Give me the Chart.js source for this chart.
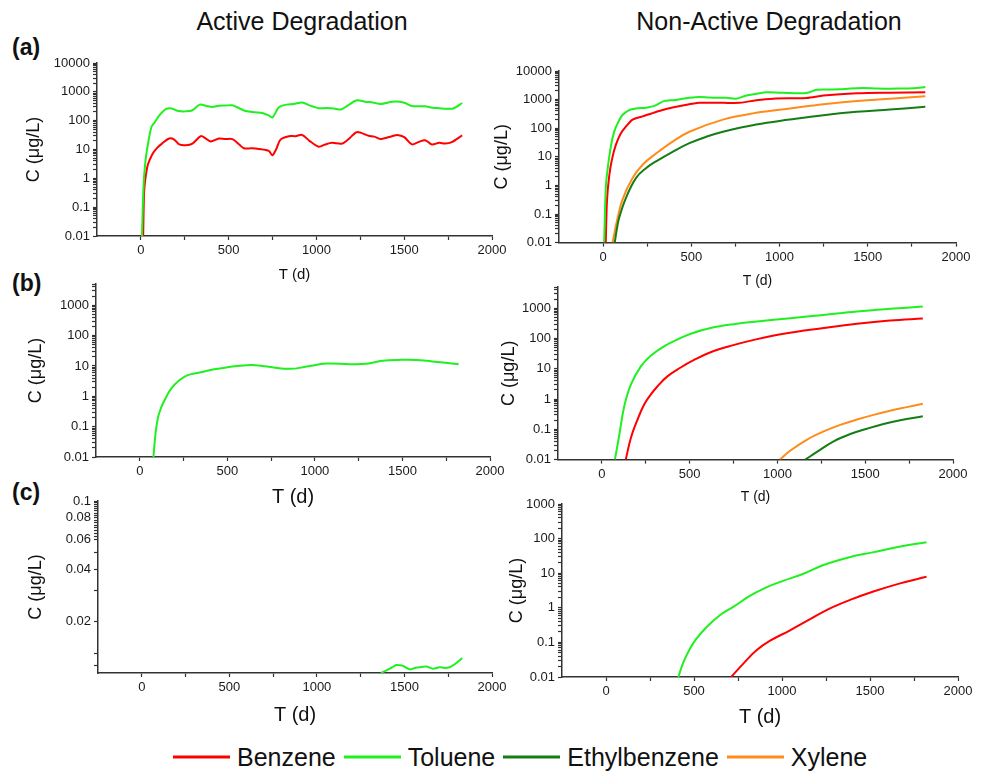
<!DOCTYPE html>
<html>
<head>
<meta charset="utf-8">
<script src="https://cdn.jsdelivr.net/npm/chart.js@4.4.1/dist/chart.umd.min.js"></script>
<style>
  body { margin: 0; width: 986px; height: 773px; position: relative; background: #fff; overflow: hidden;
         font-family: "Liberation Sans", Arial, sans-serif; color: #111; }
  canvas { position: absolute; }
  .txt { position: absolute; line-height: 1; white-space: nowrap; transform: translate(-50%, -50%); }
  .head { font-size: 25px; }
  .tag { font-size: 23px; font-weight: bold; transform: translate(0, -50%); }
  #legend { position: absolute; left: 173px; top: 757px; transform: translateY(-50%); display: flex;
            align-items: center; font-size: 25px; line-height: 1; }
  #legend .ln { display: inline-block; width: 57px; height: 2.5px; margin-right: 7px; }
  #legend .lb { margin-right: 8px; }
</style>
</head>
<body>
<div class="txt head" style="left:302px; top:21px">Active Degradation</div>
<div class="txt head" style="left:769px; top:21px">Non-Active Degradation</div>
<div class="txt tag" style="left:12px; top:47px">(a)</div>
<div class="txt tag" style="left:12px; top:283px">(b)</div>
<div class="txt tag" style="left:12px; top:492px">(c)</div>

<canvas id="aL"></canvas>
<canvas id="aR"></canvas>
<canvas id="bL"></canvas>
<canvas id="bR"></canvas>
<canvas id="cL"></canvas>
<canvas id="cR"></canvas>

<div id="legend"></div>

<script>
const seriesNames = ['Benzene', 'Toluene', 'Ethylbenzene', 'Xylene'];
const seriesColors = ['#ff0000', '#1ff01f', '#147d14', '#ff8c1a'];

const xTicks = [0, 250, 500, 750, 1000, 1250, 1500, 1750, 2000];
const xLabels = [0, 500, 1000, 1500, 2000];

const decadeLabels = [0.01, 0.1, 1, 10, 100, 1000, 10000];
const cLeftLabels = [0.02, 0.04, 0.06, 0.08, 0.1];
const cLeftMinor = [0.011, 0.013, 0.03, 0.05, 0.0625, 0.065, 0.0675, 0.07, 0.0725, 0.075, 0.0775,
                    0.0825, 0.085, 0.0875, 0.09, 0.0925, 0.095, 0.0975];

// (a) Active degradation
const aActBenzT = [13, 18, 25, 40, 66, 90, 120, 161, 190, 218, 256, 294, 341, 370, 398, 445, 480, 521, 560, 587,
                   630, 672, 729, 748, 770, 795, 843, 880, 919, 960, 1013, 1050, 1089, 1146, 1190, 1230, 1297,
                   1330, 1364, 1430, 1460, 1500, 1544, 1580, 1619, 1657, 1700, 1733, 1771, 1830];
const aActBenzC = [0.01, 0.3, 0.9, 3, 7, 11, 16, 24, 22, 15, 14, 16, 29, 24, 19, 24, 23, 23, 15, 11,
                   11, 10.5, 9, 6.3, 10, 22, 29, 29, 32, 20, 12.5, 15, 17, 16, 25, 40, 30,
                   28, 23, 29, 32, 27, 15, 18, 21, 15, 17, 16, 18, 31];
const aActTolT = [6, 15, 25, 40, 60, 80, 104, 142, 175, 215, 256, 294, 335, 370, 407, 445, 483, 521, 560, 597,
                  650, 691, 730, 750, 786, 830, 870, 919, 960, 1013, 1060, 1100, 1140, 1180, 1230, 1278, 1320,
                  1365, 1430, 1460, 1500, 1544, 1580, 1619, 1660, 1700, 1740, 1780, 1830];
const aActTolC = [0.01, 0.5, 3.5, 15, 60, 90, 150, 250, 265, 215, 210, 230, 360, 330, 300, 330, 335, 340, 270, 215,
                  195, 185, 150, 130, 290, 360, 380, 430, 340, 270, 275, 265, 245, 340, 510, 450, 430,
                  380, 450, 460, 420, 320, 315, 315, 280, 270, 260, 265, 410];

// (a) Non-active degradation
const aNonBenzT = [15, 22, 34, 50, 72, 100, 129, 167, 224, 300, 357, 451, 546, 679, 774, 868, 963, 1153, 1248, 1437, 1627, 1826];
const aNonBenzC = [0.01, 0.3, 2, 8, 26, 65, 113, 200, 260, 370, 470, 620, 770, 770, 770, 950, 1080, 1140, 1380, 1660, 1750, 1800];
const aNonTolT = [6, 15, 25, 45, 63, 85, 110, 148, 186, 243, 280, 300, 347, 380, 413, 450, 489, 546, 600, 641, 700,
                  755, 812, 870, 925, 1000, 1058, 1153, 1210, 1280, 1342, 1400, 1475, 1550, 1627, 1700, 1760, 1826];
const aNonTolC = [0.01, 0.8, 3.5, 25, 76, 160, 290, 430, 490, 520, 580, 640, 900, 940, 960, 1080, 1170, 1240, 1180, 1150, 1150,
                  1080, 1400, 1600, 1800, 1750, 1700, 1700, 2200, 2250, 2280, 2450, 2540, 2450, 2400, 2450, 2470, 2750];
const aNonEthT = [66, 78, 91, 129, 186, 243, 300, 394, 489, 584, 679, 868, 1058, 1248, 1437, 1627, 1826];
const aNonEthC = [0.01, 0.03, 0.074, 0.36, 1.8, 4, 6.9, 15, 30, 50, 75, 135, 200, 285, 373, 450, 560];
const aNonXylT = [53, 62, 72, 110, 167, 224, 300, 394, 489, 679, 868, 1058, 1248, 1437, 1627, 1826];
const aNonXylC = [0.01, 0.018, 0.038, 0.32, 1.8, 5.3, 13, 34, 75, 200, 345, 487, 690, 900, 1080, 1300];

// (b) Active degradation
const bActTolT = [78, 90, 104, 122, 142, 179, 226, 274, 349, 425, 500, 632, 726, 858, 953, 1066, 1198, 1292, 1387, 1481, 1575, 1670, 1821];
const bActTolC = [0.01, 0.06, 0.2, 0.42, 0.75, 1.8, 3.4, 5, 6.2, 7.8, 9, 10.8, 9.5, 8, 9.5, 12, 11.4, 11.7, 14.7, 15.8, 15.8, 14, 11.4];

// (b) Non-active degradation
const bNonBenzT = [136, 165, 203, 240, 278, 316, 373, 449, 525, 619, 733, 884, 1036, 1263, 1453, 1642, 1828];
const bNonBenzC = [0.01, 0.052, 0.21, 0.65, 1.4, 2.6, 5.6, 11, 19.5, 35, 57, 95, 143, 220, 305, 390, 456];
const bNonTolT = [74, 98, 127, 165, 222, 278, 354, 430, 506, 619, 752, 884, 1074, 1263, 1453, 1642, 1828];
const bNonTolC = [0.01, 0.059, 0.57, 3, 12, 27, 55, 92, 143, 220, 297, 364, 468, 600, 776, 950, 1130];
const bNonEthT = [1159, 1225, 1320, 1415, 1510, 1604, 1699, 1828];
const bNonEthC = [0.01, 0.018, 0.04, 0.07, 0.105, 0.15, 0.2, 0.27];
const bNonXylT = [1013, 1074, 1169, 1263, 1358, 1453, 1548, 1642, 1737, 1828];
const bNonXylC = [0.01, 0.02, 0.046, 0.085, 0.14, 0.21, 0.3, 0.41, 0.54, 0.7];

// (c) Active degradation
const cActTolT = [1366, 1397, 1430, 1454, 1475, 1492, 1530, 1560, 1587, 1625, 1663, 1700, 1730, 1757, 1785, 1830];
const cActTolC = [0.01, 0.01036, 0.0108, 0.01113, 0.0111, 0.011, 0.0105, 0.0107, 0.0108, 0.0109, 0.0106,
                  0.0108, 0.0107, 0.0108, 0.0112, 0.0122];

// (c) Non-active degradation
const cNonBenzT = [711, 779, 855, 930, 1043, 1157, 1270, 1383, 1515, 1666, 1821];
const cNonBenzC = [0.01, 0.024, 0.059, 0.11, 0.22, 0.46, 0.95, 1.66, 2.9, 5, 7.9];
const cNonTolT = [411, 440, 477, 515, 572, 647, 723, 817, 911, 1006, 1119, 1232, 1383, 1515, 1666, 1821];
const cNonTolC = [0.01, 0.027, 0.066, 0.13, 0.28, 0.61, 1.06, 2.2, 3.9, 6, 9.5, 17, 29, 40, 58, 79];

const FONT = '"Liberation Sans", Arial, sans-serif';
const YW = 90, TP = 15, RP = 25;

function decadeTicks(min, max) {
  const out = [];
  decadeLabels.forEach(d => {
    for (let m = 1; m <= 9; m++) {
      const v = d * m;
      if (v >= min * 0.999 && v <= max * 1.001) out.push(m === 1 ? d : v);
    }
  });
  return out;
}

function pts(t, c) {
  return t.map((v, i) => ({ x: v, y: c[i] }));
}

function makePanel(id, g, y, lines) {
  const canvas = document.getElementById(id);
  const left = Math.round(g.axisX) - YW;
  const top = Math.round(g.top) - TP;
  const plotW = g.right - g.axisX;
  const plotH = g.bottom - g.top;
  const xh = g.xTitleY - g.bottom + 0.6 * g.xTitleSize;
  canvas.width = Math.round(YW + plotW + RP);
  canvas.height = Math.round(TP + plotH + xh);
  canvas.style.left = left + 'px';
  canvas.style.top = top + 'px';

  new Chart(canvas, {
    type: 'line',
    data: {
      datasets: lines.map(l => ({
        label: seriesNames[l.s],
        data: pts(l.t, l.c),
        borderColor: seriesColors[l.s],
        borderWidth: 2,
        pointRadius: 0,
        tension: l.smooth ? 0.4 : 0.3,
        fill: false
      }))
    },
    options: {
      responsive: false,
      animation: false,
      devicePixelRatio: 1,
      layout: { padding: { top: TP, right: RP, left: 0, bottom: 0 } },
      plugins: { legend: { display: false }, tooltip: { enabled: false } },
      scales: {
        x: {
          type: 'linear',
          min: -250,
          max: 2000,
          afterBuildTicks: s => { s.ticks = xTicks.map(v => ({ value: v })); },
          afterFit: s => { s.height = xh; },
          ticks: {
            autoSkip: false,
            maxRotation: 0,
            padding: 3,
            color: '#1a1a1a',
            font: { family: FONT, size: 13 },
            callback: v => xLabels.includes(v) ? String(v) : ''
          },
          grid: { drawOnChartArea: false, tickLength: 4, tickColor: '#333', tickWidth: 1.2 },
          border: { color: '#333', width: 1.5 },
          title: {
            display: true,
            text: 'T (d)',
            color: '#111',
            font: { family: FONT, size: g.xTitleSize },
            padding: { top: 0, bottom: 0 }
          }
        },
        y: {
          type: 'logarithmic',
          min: y.min,
          max: y.max,
          afterBuildTicks: s => { s.ticks = y.ticks.map(v => ({ value: v })); },
          afterFit: s => { s.width = YW; },
          ticks: {
            autoSkip: false,
            padding: 3,
            color: '#1a1a1a',
            font: { family: FONT, size: 13 },
            callback: v => y.labels.includes(v) ? String(v) : ''
          },
          grid: { drawOnChartArea: false, tickLength: 4, tickColor: '#333', tickWidth: 1.2 },
          border: { color: '#333', width: 1.5 },
          title: {
            display: true,
            text: 'C (\u03bcg/L)',
            color: '#111',
            font: { family: FONT, size: 18 },
            padding: { top: g.yTitleX - left - 10.8, bottom: 0 }
          }
        }
      }
    }
  });
}

const yTall = { min: 0.01, max: 10000, ticks: decadeTicks(0.01, 10000), labels: decadeLabels };
const yMid = { min: 0.01, max: 5000, ticks: decadeTicks(0.01, 5000), labels: decadeLabels.slice(0, 6) };
const yLow = { min: 0.01, max: 1000, ticks: decadeTicks(0.01, 1000), labels: decadeLabels.slice(0, 6) };
const yTiny = { min: 0.01, max: 0.1, ticks: cLeftLabels.concat(cLeftMinor).sort((a, b) => a - b), labels: cLeftLabels };

makePanel('aL', { axisX: 97, right: 492, top: 63, bottom: 236, xTitleY: 275, xTitleSize: 15, yTitleX: 34 }, yTall, [
  { s: 1, t: aActTolT, c: aActTolC },
  { s: 0, t: aActBenzT, c: aActBenzC }
]);
makePanel('aR', { axisX: 559, right: 956, top: 71, bottom: 243, xTitleY: 282, xTitleSize: 14, yTitleX: 502 }, yTall, [
  { s: 2, t: aNonEthT, c: aNonEthC, smooth: true },
  { s: 3, t: aNonXylT, c: aNonXylC, smooth: true },
  { s: 1, t: aNonTolT, c: aNonTolC },
  { s: 0, t: aNonBenzT, c: aNonBenzC }
]);
makePanel('bL', { axisX: 96, right: 490, top: 284, bottom: 457, xTitleY: 497, xTitleSize: 20, yTitleX: 36 }, yMid, [
  { s: 1, t: bActTolT, c: bActTolC, smooth: true }
]);
makePanel('bR', { axisX: 558, right: 953, top: 287, bottom: 460, xTitleY: 498, xTitleSize: 14, yTitleX: 509 }, yMid, [
  { s: 2, t: bNonEthT, c: bNonEthC, smooth: true },
  { s: 3, t: bNonXylT, c: bNonXylC, smooth: true },
  { s: 1, t: bNonTolT, c: bNonTolC, smooth: true },
  { s: 0, t: bNonBenzT, c: bNonBenzC, smooth: true }
]);
makePanel('cL', { axisX: 98, right: 492, top: 501, bottom: 673, xTitleY: 715, xTitleSize: 20, yTitleX: 36 }, yTiny, [
  { s: 1, t: cActTolT, c: cActTolC }
]);
makePanel('cR', { axisX: 562, right: 958, top: 504, bottom: 677, xTitleY: 717, xTitleSize: 20, yTitleX: 517 }, yLow, [
  { s: 1, t: cNonTolT, c: cNonTolC, smooth: true },
  { s: 0, t: cNonBenzT, c: cNonBenzC, smooth: true }
]);

// legend as plain text
const legend = document.getElementById('legend');
seriesNames.forEach((name, i) => {
  const ln = document.createElement('span');
  ln.className = 'ln';
  ln.style.background = seriesColors[i];
  const lb = document.createElement('span');
  lb.className = 'lb';
  lb.textContent = name;
  legend.appendChild(ln);
  legend.appendChild(lb);
});
</script>
</body>
</html>
